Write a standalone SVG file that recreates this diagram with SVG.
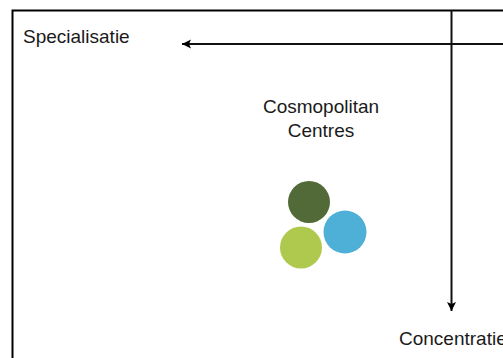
<svg xmlns="http://www.w3.org/2000/svg" width="503" height="358" viewBox="0 0 503 358">
<style>
text{font-family:"Liberation Sans",Arial,sans-serif;font-size:19px;fill:#1a1a1a}
.c{text-anchor:middle}
.l{stroke:#111;stroke-width:2;fill:none}
</style>
<defs>
<marker id="a" markerUnits="userSpaceOnUse" markerWidth="10" markerHeight="10" refX="9" refY="5" orient="auto"><path d="M0 0.500L9 5L0 9.500L2 5Z" fill="#000"/></marker>
</defs>
<rect width="503" height="358" fill="#fff"/>
<path id="frame" d="M503 10.500H12.500V358" fill="none" stroke="#000" stroke-width="2"/>
<g id="connectors">
<path class="l" d="M503 44H182" marker-end="url(#a)"/>
<path class="l" d="M451.500 10V311" marker-end="url(#a)"/>
</g>
<g id="specialisatie"><text x="23" y="43">Specialisatie</text></g>
<g id="concentratie"><text x="399" y="345">Concentratie</text></g>
<g id="cosmopolitan"><text class="c" x="321" y="113">Cosmopolitan</text><text class="c" x="321" y="137">Centres</text></g>
<g id="circles">
<circle cx="309" cy="202" r="21" fill="#526a37"/>
<circle cx="345" cy="232" r="21.500" fill="#4eb0d6"/>
<circle cx="301" cy="247.500" r="21" fill="#afc84e"/>
</g>
</svg>
